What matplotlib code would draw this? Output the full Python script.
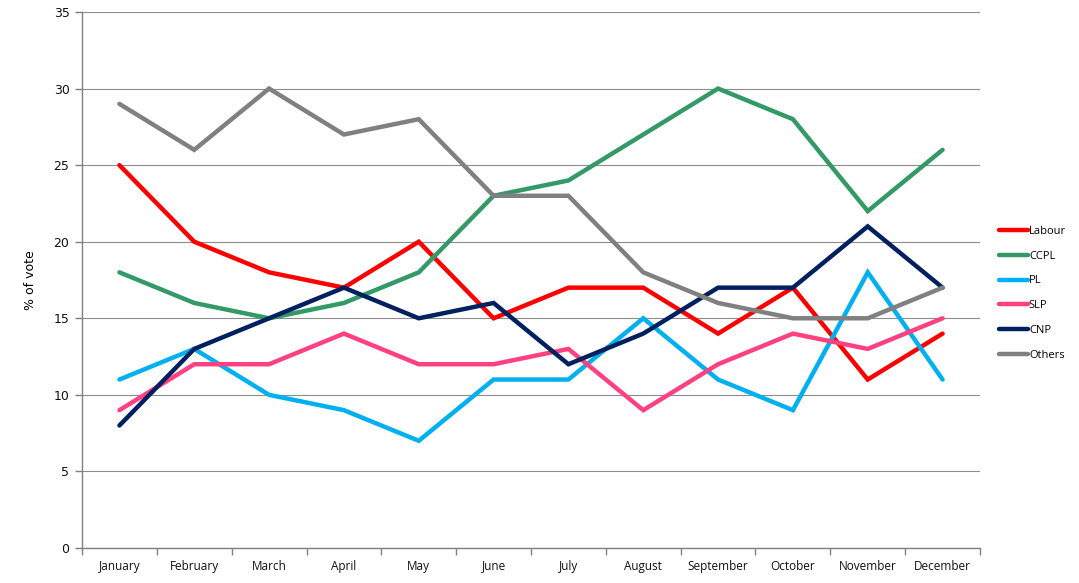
import matplotlib
matplotlib.use("Agg")
import matplotlib.pyplot as plt
import numpy as np

months = ["January", "February", "March", "April", "May", "June", "July",
          "August", "September", "October", "November", "December"]
labour = [25, 20, 18, 17, 20, 15, 17, 17, 14, 17, 11, 14]
ccpl = [18, 16, 15, 16, 18, 23, 24, 27, 30, 28, 22, 26]
pl = [11, 13, 10, 9, 7, 11, 11, 15, 11, 9, 18, 11]
slp = [9, 12, 12, 14, 12, 12, 13, 9, 12, 14, 13, 15]
cnp = [8, 13, 15, 17, 15, 16, 12, 14, 17, 17, 21, 17]
others = [29, 26, 30, 27, 28, 23, 23, 18, 16, 15, 15, 17]

series = [
    ("Labour", labour, "#ff0000"),
    ("CCPL", ccpl, "#339966"),
    ("PL", pl, "#00b0f0"),
    ("SLP", slp, "#ff4081"),
    ("CNP", cnp, "#002060"),
    ("Others", others, "#808080"),
]

fig = plt.figure(figsize=(10.79, 5.83), dpi=100)
ax = fig.add_axes([82 / 1079, 35 / 583, 898 / 1079, 536 / 583])

x = np.arange(len(months))
for name, vals, col in series:
    ax.plot(x, vals, color=col, lw=3.2, label=name, solid_capstyle="round",
            solid_joinstyle="miter")

ax.set_xlim(-0.5, len(months) - 0.5)
ax.set_ylim(0, 35)
ax.set_yticks(np.arange(0, 36, 5))
ax.set_xticks(x)
ax.set_xticklabels(months, fontfamily="Open Sans", fontsize=8.5, color="#111111",
                   va="baseline")
ax.set_xticks(np.arange(-0.5, len(months), 1), minor=True)
ax.tick_params(axis="x", which="major", length=0, pad=15.5)
ax.tick_params(axis="x", which="minor", length=5, color="#808080", width=1)
ax.tick_params(axis="y", length=5, color="#808080", width=1, labelsize=9, pad=4)
for lab in ax.get_yticklabels():
    lab.set_fontfamily("DejaVu Sans")
    lab.set_color("#111111")

ax.grid(axis="y", color="#8c8c8c", lw=0.8)
ax.set_axisbelow(True)
for s in ["top", "right"]:
    ax.spines[s].set_visible(False)
for s in ["left", "bottom"]:
    ax.spines[s].set_color("#808080")
    ax.spines[s].set_linewidth(1)

ax.set_ylabel("% of vote", fontsize=9, labelpad=12, fontfamily="DejaVu Sans")

ax.legend(loc="center left", bbox_to_anchor=(1.01, 0.475), frameon=False,
          prop={"family": "Open Sans", "size": 8}, handlelength=2.6,
          handletextpad=0.1, labelspacing=1.25)

fig.savefig("out.png", dpi=100)
